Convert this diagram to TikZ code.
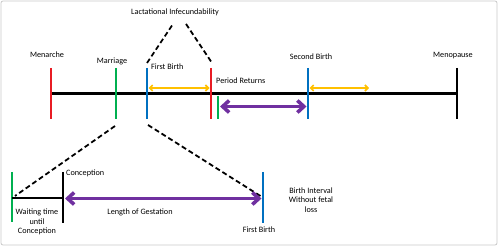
\documentclass[tikz,border=0pt]{standalone}
\usepackage{fontspec}
\setmainfont{Carlito}
\usetikzlibrary{arrows.meta}
\definecolor{ored}{RGB}{232,28,36}
\definecolor{ogreen}{RGB}{0,176,80}
\definecolor{oblue}{RGB}{0,112,192}
\definecolor{oyellow}{RGB}{255,192,0}
\definecolor{opurple}{RGB}{112,48,160}
\definecolor{oframe}{RGB}{200,200,200}
\begin{document}
\begin{tikzpicture}[x=1pt,y=-1pt,
  lbl/.style={font=\fontsize{8.2}{9.8}\selectfont, inner sep=0pt, align=center},
  lbll/.style={lbl, anchor=west},
  tickline/.style={line width=2pt},
  dashline/.style={line width=1.8pt, dash pattern=on 5pt off 3pt},
  yarrow/.style={oyellow, line width=1.6pt, {Straight Barb[length=3pt,width=6pt]}-{Straight Barb[length=3pt,width=6pt]}},
  parrow/.style={opurple, line width=3.6pt, {Straight Barb[length=6.5pt,width=12pt]}-{Straight Barb[length=6.5pt,width=12pt]}},
  framebox/.style={draw=oframe, line width=0.8pt, rounded corners=2pt}]
\useasboundingbox (0,0) rectangle (500,248);
\draw[framebox] (1,1) rectangle (497,245);

% main timeline
\coordinate (tl0) at (51,94);
\coordinate (tl1) at (457,94);
\draw[line width=3pt] (tl0) -- (tl1);

% ticks on main timeline
\coordinate (menT) at (51,68);  \coordinate (menB) at (51,119);
\coordinate (marT) at (116,68); \coordinate (marB) at (116,119);
\coordinate (fbT) at (147,68);  \coordinate (fbB) at (147,119);
\coordinate (prT) at (211,68);  \coordinate (prB) at (211,119);
\coordinate (pgT) at (218,96);  \coordinate (pgB) at (218,119);
\coordinate (sbT) at (308,68);  \coordinate (sbB) at (308,119);
\coordinate (mpT) at (457,68);  \coordinate (mpB) at (457,119);
\draw[tickline, ored] (menT) -- (menB);
\draw[tickline, ogreen] (marT) -- (marB);
\draw[tickline, oblue] (fbT) -- (fbB);
\draw[tickline, ored] (prT) -- (prB);
\draw[tickline, ogreen] (pgT) -- (pgB);
\draw[tickline, oblue] (sbT) -- (sbB);
\draw[tickline, black] (mpT) -- (mpB);

% labels on main timeline
\node[lbl] (menarche) at (47,55) {Menarche};
\node[lbl] (marriage) at (112,61) {Marriage};
\node[lbll] (firstbirth) at (151,67) {First Birth};
\node[lbll] (periodret) at (216,81) {Period Returns};
\node[lbl] (secondbirth) at (311,57) {Second Birth};
\node[lbl] (menopause) at (453,56) {Menopause};
\node[lbl] (lactinf) at (175,12) {Lactational Infecundability};

% yellow arrows
\coordinate (y1a) at (148.5,88); \coordinate (y1b) at (209.5,88);
\coordinate (y2a) at (309.5,88); \coordinate (y2b) at (369,88);
\draw[yarrow] (y1a) -- (y1b);
\draw[yarrow] (y2a) -- (y2b);

% purple arrow on main timeline
\coordinate (p1a) at (220,106.5); \coordinate (p1b) at (306.5,106.5);
\draw[parrow] (p1a) -- (p1b);

% dashed lines to lactational infecundability
\coordinate (dTa) at (147,63); \coordinate (dTb) at (173,24);
\coordinate (dTc) at (186,24); \coordinate (dTd) at (212,63);
\draw[dashline] (dTa) -- (dTb);
\draw[dashline] (dTc) -- (dTd);

% dashed lines to lower detail
\coordinate (dBa) at (115,126); \coordinate (dBb) at (15,196);
\coordinate (dBc) at (148,125); \coordinate (dBd) at (262,197);
\draw[dashline] (dBa) -- (dBb);
\draw[dashline] (dBc) -- (dBd);

% lower detail
\coordinate (gT) at (12,172); \coordinate (gB) at (12,222);
\coordinate (cT) at (63,172); \coordinate (cB) at (63,223);
\coordinate (bT) at (263,172); \coordinate (bB) at (263,223);
\coordinate (w0) at (12,198); \coordinate (w1) at (63,198);
\draw[tickline, ogreen] (gT) -- (gB);
\draw[tickline, black] (cT) -- (cB);
\draw[tickline, oblue] (bT) -- (bB);
\draw[tickline, black] (w0) -- (w1);
\coordinate (p2a) at (65,198.5); \coordinate (p2b) at (261.5,198.5);
\draw[parrow] (p2a) -- (p2b);

\node[lbll] (conception) at (66,173) {Conception};
\node[lbl] (waiting) at (37,222) {Waiting time\\until\\Conception};
\node[lbl] (gestation) at (140,212) {Length of Gestation};
\node[lbl] (firstbirth2) at (259,230) {First Birth};
\node[lbl] (birthint) at (311,200) {Birth Interval\\Without fetal\\loss};
\end{tikzpicture}
\end{document}
